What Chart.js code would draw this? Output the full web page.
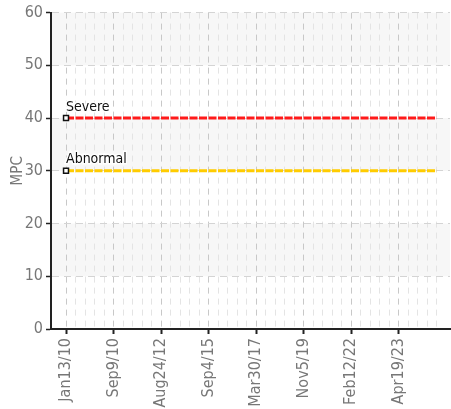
<!DOCTYPE html>
<html>
<head>
<meta charset="utf-8">
<script src="https://cdn.jsdelivr.net/npm/chart.js@4.4.0/dist/chart.umd.min.js"></script>
<style>
  html, body { margin: 0; padding: 0; background: #fff; }
  #wrap { width: 451px; height: 409px; }
</style>
</head>
<body>
<div id="wrap"><canvas id="chart"></canvas></div>
<script>
// tick labels shown under every 5th point
const tickLabels = ['Jan13/10', 'Sep9/10', 'Aug24/12', 'Sep4/15', 'Mar30/17', 'Nov5/19', 'Feb12/22', 'Apr19/23'];

// threshold series, one value per point
const severe = [
  40, 40, 40, 40, 40, 40, 40, 40, 40, 40,
  40, 40, 40, 40, 40, 40, 40, 40, 40, 40,
  40, 40, 40, 40, 40, 40, 40, 40, 40, 40,
  40, 40, 40, 40, 40, 40, 40, 40, 40, 40
];
const abnormal = [
  30, 30, 30, 30, 30, 30, 30, 30, 30, 30,
  30, 30, 30, 30, 30, 30, 30, 30, 30, 30,
  30, 30, 30, 30, 30, 30, 30, 30, 30, 30,
  30, 30, 30, 30, 30, 30, 30, 30, 30, 30
];

const yTicks = [0, 10, 20, 30, 40, 50, 60];

const FONT = "'Liberation Sans Narrow', 'DejaVu Sans Condensed', sans-serif";

// alternating background bands
const bandPlugin = {
  id: 'bands',
  beforeDraw(chart) {
    const { ctx, chartArea, scales } = chart;
    const y = scales.y;
    ctx.save();
    ctx.fillStyle = '#f7f7f7';
    for (let i = 0; i < yTicks.length - 1; i++) {
      if (i % 2 === 0) continue;
      const top = y.getPixelForValue(yTicks[i + 1]);
      const bottom = y.getPixelForValue(yTicks[i]);
      ctx.fillRect(chartArea.left, top, chartArea.right - chartArea.left, bottom - top);
    }
    ctx.restore();
  }
};

// series name above first point
const namePlugin = {
  id: 'names',
  afterDatasetsDraw(chart) {
    const { ctx } = chart;
    ctx.save();
    ctx.font = '14px ' + FONT;
    ctx.textAlign = 'left';
    ctx.textBaseline = 'bottom';
    chart.data.datasets.forEach((ds, i) => {
      const p = chart.getDatasetMeta(i).data[0];
      ctx.lineWidth = 3;
      ctx.strokeStyle = '#fff';
      ctx.strokeText(ds.label, p.x, p.y - 4);
      ctx.fillStyle = '#111';
      ctx.fillText(ds.label, p.x, p.y - 4);
    });
    ctx.restore();
  }
};

function toPoints(values) {
  return values.map((v, i) => ({ x: i, y: v }));
}

const ctx = document.getElementById('chart').getContext('2d');
new Chart(ctx, {
  type: 'line',
  data: {
    datasets: [
      {
        label: 'Severe',
        data: toPoints(severe),
        borderColor: '#ff1a1a',
        borderWidth: 3,
        borderDash: [8, 1.5],
        pointStyle: 'rect',
        pointRadius: (c) => (c.dataIndex === 0 ? 3.5 : 0),
        pointBackgroundColor: '#fff',
        pointBorderColor: '#111',
        pointBorderWidth: 1.5,
      },
      {
        label: 'Abnormal',
        data: toPoints(abnormal),
        borderColor: '#ffcc00',
        borderWidth: 3,
        borderDash: [8, 1.5],
        pointStyle: 'rect',
        pointRadius: (c) => (c.dataIndex === 0 ? 3.5 : 0),
        pointBackgroundColor: '#fff',
        pointBorderColor: '#111',
        pointBorderWidth: 1.5,
      },
    ],
  },
  options: {
    responsive: true,
    maintainAspectRatio: false,
    animation: false,
    layout: { autoPadding: false, padding: { top: 12, right: 1, left: 0, bottom: 0 } },
    plugins: {
      legend: { display: false },
      tooltip: { enabled: false },
    },
    scales: {
      x: {
        type: 'linear',
        min: -1.58,
        max: 40.4,
        afterBuildTicks(scale) {
          scale.ticks = severe.map((v, i) => ({ value: i }));
        },
        afterFit(scale) {
          scale.height = 80;
          scale.paddingLeft = 0;
          scale.paddingRight = 0;
        },
        ticks: {
          autoSkip: false,
          maxRotation: 90,
          minRotation: 90,
          padding: 4,
          color: '#777',
          font: { family: FONT, size: 16 },
          callback: (v) => (v % 5 === 0 ? tickLabels[v / 5] : ''),
        },
        grid: {
          color: (c) => (c.tick && c.tick.value % 5 === 0 ? '#c8c8c8' : '#e4e4e4'),
          tickColor: (c) => (c.tick && c.tick.value % 5 === 0 ? '#222' : 'transparent'),
          tickLength: 5,
          lineWidth: 1,
          tickWidth: 2,
        },
        border: { color: '#222', width: 2, dash: [6, 5] },
      },
      y: {
        min: 0,
        max: 60,
        afterBuildTicks(scale) {
          scale.ticks = yTicks.map((v) => ({ value: v }));
        },
        afterFit(scale) {
          scale.width = 51;
        },
        title: {
          display: true,
          text: 'MPC',
          color: '#777',
          padding: { top: 9, bottom: 0 },
          font: { family: FONT, size: 15 },
        },
        ticks: {
          padding: 3,
          color: '#777',
          font: { family: FONT, size: 16 },
        },
        grid: {
          color: '#d4d4d4',
          tickColor: '#222',
          tickLength: 5,
          tickWidth: 1.5,
        },
        border: { color: '#222', width: 2, dash: [7, 5] },
      },
    },
  },
  plugins: [bandPlugin, namePlugin],
});
</script>
</body>
</html>
